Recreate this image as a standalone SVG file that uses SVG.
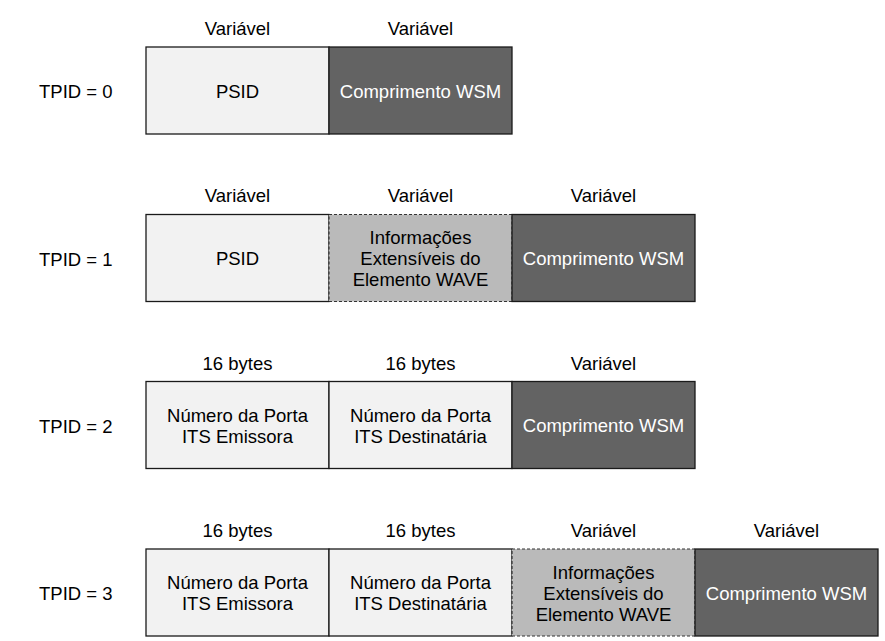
<svg xmlns="http://www.w3.org/2000/svg" width="885" height="641" viewBox="0 0 885 641">
<style>
text{font-family:"Liberation Sans",Arial,sans-serif;font-size:18.5px;fill:#000;text-anchor:middle}
.lt{fill:#f2f2f2;stroke:#1a1a1a;stroke-width:1.3}
.md{fill:#bababa;stroke:#333;stroke-width:1.2;stroke-dasharray:3,2}
.dk{fill:#636363;stroke:#1a1a1a;stroke-width:1.3}
text.w{fill:#fff}
text.l{text-anchor:start}
</style>
<rect width="885" height="641" fill="#fff"/>
<g id="row0">
<text class="l" x="39" y="98">TPID = 0</text>
<text x="237.5" y="35">Variável</text>
<text x="420.5" y="35">Variável</text>
<g id="r0psid"><rect class="lt" x="146" y="47" width="183" height="87"/><text x="237.5" y="97.5">PSID</text></g>
<g id="r0wsm"><rect class="dk" x="329" y="47" width="183" height="87"/><text class="w" x="420.5" y="97.5">Comprimento WSM</text></g>
</g>
<g id="row1">
<text class="l" x="39" y="265.5">TPID = 1</text>
<text x="237.5" y="202">Variável</text>
<text x="420.5" y="202">Variável</text>
<text x="603.5" y="202">Variável</text>
<g id="r1psid"><rect class="lt" x="146" y="214.5" width="183" height="87"/><text x="237.5" y="265">PSID</text></g>
<g id="r1wave"><rect class="md" x="329" y="214.5" width="183" height="87"/><text x="420.5" y="244">Informações</text><text x="420.5" y="265">Extensíveis do</text><text x="420.5" y="286">Elemento WAVE</text></g>
<g id="r1wsm"><rect class="dk" x="512" y="214.5" width="183" height="87"/><text class="w" x="603.5" y="265">Comprimento WSM</text></g>
</g>
<g id="row2">
<text class="l" x="39" y="432.5">TPID = 2</text>
<text x="237.5" y="369.5">16 bytes</text>
<text x="420.5" y="369.5">16 bytes</text>
<text x="603.5" y="369.5">Variável</text>
<g id="r2src"><rect class="lt" x="146" y="381.5" width="183" height="87"/><text x="237.5" y="422">Número da Porta</text><text x="237.5" y="443">ITS Emissora</text></g>
<g id="r2dst"><rect class="lt" x="329" y="381.5" width="183" height="87"/><text x="420.5" y="422">Número da Porta</text><text x="420.5" y="443">ITS Destinatária</text></g>
<g id="r2wsm"><rect class="dk" x="512" y="381.5" width="183" height="87"/><text class="w" x="603.5" y="432">Comprimento WSM</text></g>
</g>
<g id="row3">
<text class="l" x="39" y="600">TPID = 3</text>
<text x="237.5" y="537">16 bytes</text>
<text x="420.5" y="537">16 bytes</text>
<text x="603.5" y="537">Variável</text>
<text x="786.5" y="537">Variável</text>
<g id="r3src"><rect class="lt" x="146" y="549" width="183" height="87"/><text x="237.5" y="589">Número da Porta</text><text x="237.5" y="610">ITS Emissora</text></g>
<g id="r3dst"><rect class="lt" x="329" y="549" width="183" height="87"/><text x="420.5" y="589">Número da Porta</text><text x="420.5" y="610">ITS Destinatária</text></g>
<g id="r3wave"><rect class="md" x="512" y="549" width="183" height="87"/><text x="603.5" y="578.5">Informações</text><text x="603.5" y="599.5">Extensíveis do</text><text x="603.5" y="620.5">Elemento WAVE</text></g>
<g id="r3wsm"><rect class="dk" x="695" y="549" width="183" height="87"/><text class="w" x="786.5" y="599.5">Comprimento WSM</text></g>
</g>
<g id="connectors"></g>
</svg>
